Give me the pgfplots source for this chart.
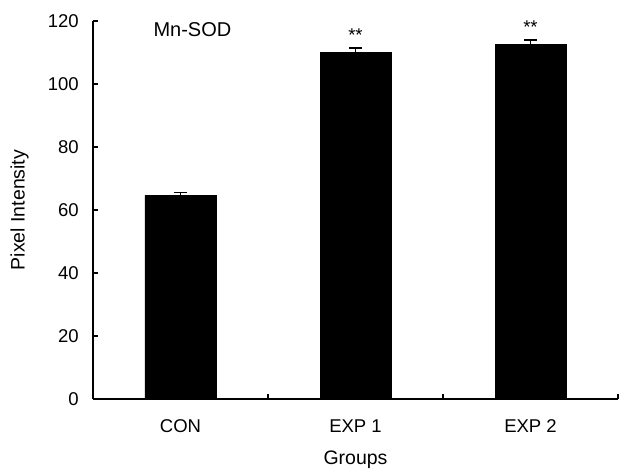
\documentclass[border=0pt]{standalone}
\usepackage{fontspec}
\setmainfont{Liberation Sans}
\usepackage{pgfplots}
\pgfplotsset{compat=1.18}

\begin{document}
\begin{tikzpicture}
\fontsize{18.5}{21}\selectfont
\begin{axis}[
    scale only axis,
    width=525pt, height=378pt,
    xmin=-0.5, xmax=2.5,
    ymin=0, ymax=120,
    axis lines=left,
    axis line style={-, line width=1.1pt},
    xtick={0,1,2},
    xticklabels={CON,EXP 1,EXP 2},
    major x tick style={draw=none},
    minor xtick={0.5,1.5,2.5},
    ytick={0,20,40,60,80,100,120},
    tick align=inside,
    tick style={line width=1.1pt, black},
    major tick length=5pt, minor tick length=5pt,
    /pgf/number format/assume math mode=true,
    ticklabel style={font=\fontsize{18.5}{21}\selectfont},
    xticklabel style={yshift=-14pt},
    yticklabel style={xshift=-8pt},
    xlabel={Groups},
    ylabel={Pixel Intensity},
    xlabel style={at={(axis description cs:0.5,-0.16)}, anchor=center},
    ylabel style={at={(axis description cs:-0.14,0.5)}, anchor=center},
    label style={font=\fontsize{19.5}{22}\selectfont},
    clip=false,
]
\addplot[ybar, bar width=71pt, fill=black, draw=black,
    error bars/.cd, y dir=plus, y explicit,
    error bar style={line width=1.5pt, black},
    error mark options={rotate=90, mark size=6.5pt, line width=1.5pt, black}]
    coordinates {
    (0, 64.7) +- (0, 0.9)
    (1, 110.0) +- (0, 1.4)
    (2, 112.6) +- (0, 1.3)
};
\node[anchor=center, font=\fontsize{20}{22}\selectfont] at (axis cs:0.068,117.3) {Mn-SOD};
\node[anchor=base] at (axis cs:1,113.6) {**};
\node[anchor=base] at (axis cs:2,115.9) {**};
\path (rel axis cs:0,0) ++(-93pt,-69pt) rectangle ++(627pt,468pt);
\end{axis}
\end{tikzpicture}
\end{document}
